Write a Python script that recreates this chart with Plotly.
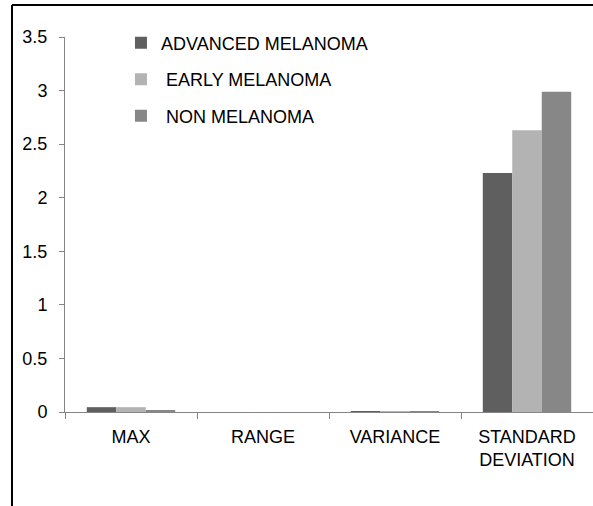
import plotly.graph_objects as go

categories = ["MAX", "RANGE", "VARIANCE", "STANDARD<br>DEVIATION"]
series_names = ["ADVANCED MELANOMA", "\u00a0EARLY MELANOMA", "\u00a0NON MELANOMA"]
advanced = [0.045, 0.0, 0.005, 2.23]
early = [0.045, 0.0, 0.004, 2.63]
non_mel = [0.012, 0.0, 0.001, 2.99]
colors = ["#5f5f5f", "#b3b3b3", "#878787"]

FONT = "Liberation Sans"
FS = 18

fig = go.Figure()
for i, (name, vals) in enumerate(zip(series_names, [advanced, early, non_mel])):
    fig.add_trace(go.Bar(x=categories, y=vals, name=name, marker_color=colors[i],
                         marker_line_width=0, legendgroup=f"g{i}"))

border = dict(color="black", width=2)
fig.update_layout(
    width=593, height=506,
    margin=dict(l=65, r=0, t=37, b=94),
    paper_bgcolor="white", plot_bgcolor="white",
    barmode="group", bargap=0.33, bargroupgap=0,
    font=dict(family=FONT, size=FS, color="black"),
    legend=dict(x=0.106, y=1.033, xanchor="left", yanchor="top",
                bgcolor="rgba(0,0,0,0)", tracegroupgap=10,
                font=dict(family=FONT, size=FS, color="black"),
                itemwidth=30),
    showlegend=True,
    shapes=[
        dict(type="line", xref="paper", yref="paper",
             x0=-0.1004, x1=-0.1004, y0=-0.3, y1=1.0853, line=border),
        dict(type="line", xref="paper", yref="paper",
             x0=-0.1004, x1=1.05, y0=1.0853, y1=1.0853, line=border),
    ],
)
fig.update_xaxes(showline=True, linecolor="#868686", linewidth=1,
                 ticks="outside", tickson="boundaries", ticklen=6, tickcolor="#868686",
                 showgrid=False, ticklabelstandoff=8,
                 tickfont=dict(family=FONT, size=FS))
fig.update_yaxes(range=[0, 3.5], tickvals=[0, 0.5, 1, 1.5, 2, 2.5, 3, 3.5],
                 ticktext=["0", "0.5", "1", "1.5", "2", "2.5", "3", "3.5"],
                 showline=True, linecolor="#868686", linewidth=1,
                 ticks="outside", ticklen=5, tickcolor="#868686",
                 showgrid=False, zeroline=False, ticklabelstandoff=8,
                 tickfont=dict(family=FONT, size=FS))

fig.write_html("out.html")
